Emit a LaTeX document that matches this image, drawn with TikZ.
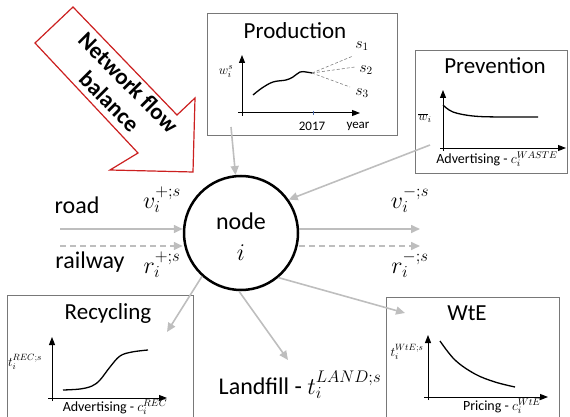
\RequirePackage{fix-cm}
\documentclass[tikz,border=0pt]{standalone}
\usepackage{fontspec}
\setmainfont{Carlito}
\usetikzlibrary{arrows.meta}
\definecolor{flowgray}{RGB}{190,190,190}
\definecolor{boxgray}{RGB}{120,120,120}
\definecolor{netred}{RGB}{204,32,32}
\definecolor{tickblue}{RGB}{80,110,170}
\tikzset{
 bigtext/.style={font=\fontsize{24}{29}\selectfont, inner sep=0pt},
 paneltitle/.style={font=\fontsize{23}{27}\selectfont, inner sep=0pt},
 smalltext/.style={font=\fontsize{14}{16}\selectfont, inner sep=0pt},
 axlabel/.style={font=\fontsize{13}{15}\selectfont, inner sep=0pt},
 scenlabel/.style={font=\fontsize{16}{18}\selectfont, inner sep=0pt},
 panel/.style={draw=boxgray, line width=1pt, anchor=north west, inner sep=0pt},
 flowarrow/.style={draw=flowgray, line width=1.6pt, -{Triangle[length=9pt,width=8pt]}},
 axis/.style={draw=black, line width=1pt, -{Triangle[length=8pt,width=6pt]}},
 curve/.style={draw=black, line width=1.3pt},
 scen/.style={draw=gray, line width=0.6pt, densely dashed},
}
\begin{document}
\begin{tikzpicture}[x=1pt,y=-1pt]
\useasboundingbox (0,0) rectangle (570,417);
\clip (0,0) rectangle (570,417);

% red block arrow
\draw[netred, line width=1.2pt, line join=miter, fill=white]
  (73,7) -- (177,115) -- (195,98) -- (193,172) -- (110,170) -- (138,153) -- (35,43) -- cycle;
\node[font=\bfseries\fontsize{23}{27}\selectfont, rotate=-45, align=center, inner sep=0pt] (nfb) at (119,92) {Network flow\\balance};

% Production panel
\node[panel, minimum width=190pt, minimum height=122pt] (prod) at (207,13) {};
\node[paneltitle] (prodT) at (295,31) {Production};
\draw[axis] (242,116) -- (242,55);
\draw[axis] (238,113) -- (360,113);
\draw[curve] plot[smooth, tension=0.6] coordinates {(253,95) (262,88) (273,82) (286,80) (293,77) (300,72) (306,72) (312,73)};
\draw[scen] (312,73) -- (353,56);
\draw[scen] (312,73) -- (355,67);
\draw[scen] (312,73) -- (350,87);
\node[scenlabel] (s1) at (362,46) {$s_1$};
\node[scenlabel] (s2) at (366,70) {$s_2$};
\node[scenlabel] (s3) at (362,93) {$s_3$};
\draw[tickblue, line width=0.8pt] (313,111) -- (313,115);
\node[axlabel] (yr) at (312,126) {2017};
\node[axlabel] (year) at (358,126) {year};
\node[axlabel] (wis) at (226,72) {$w_i^s$};

% Prevention panel
\node[panel, minimum width=152pt, minimum height=123pt] (prev) at (415,50) {};
\node[paneltitle] (prevT) at (495,66) {Prevention};
\draw[axis] (443,151) -- (443,90);
\draw[axis] (440,148) -- (566,148);
\draw[curve] plot[smooth, tension=0.6] coordinates {(443,105) (453,112) (473,116) (500,117) (538,117)};
\node[axlabel] (wbar) at (425,118) {$\overline{w}_i$};
\node[smalltext] (prevX) at (497,159) {Advertising - $c_i^{WASTE}$};

% central node
\node[circle, draw, line width=2.5pt, minimum size=114pt, inner sep=0pt] (nodei) at (241,233) {};
\node[bigtext] (nodeT) at (241,221) {node};
\node[bigtext] (nodeI) at (241,253) {$i$};

% road / railway flows
\coordinate (roadin) at (60,229);
\coordinate (railin) at (60,246);
\coordinate (roadout) at (420,229);
\coordinate (railout) at (420,246);
\draw[flowarrow] (roadin) -- (roadin -| nodei.west);
\draw[flowarrow, dash pattern=on 6pt off 4pt] (railin) -- (railin -| nodei.west);
\draw[flowarrow] (roadout -| nodei.east) -- (roadout);
\draw[flowarrow, dash pattern=on 6pt off 4pt] (railout -| nodei.east) -- (railout);
\node[bigtext] (road) at (77,205) {road};
\node[bigtext] (rail) at (90,262) {railway};
\node[bigtext] (vin) at (162,200) {$v_i^{+;s}$};
\node[bigtext] (rin) at (162,265) {$r_i^{+;s}$};
\node[bigtext] (vout) at (410,200) {$v_i^{-;s}$};
\node[bigtext] (rout) at (410,265) {$r_i^{-;s}$};

% Recycling panel
\node[panel, minimum width=186pt, minimum height=130pt] (rec) at (7,295) {};
\node[paneltitle] (recT) at (108,313) {Recycling};
\draw[axis] (52,401) -- (52,337);
\draw[axis] (48,398) -- (167,398);
\draw[curve] plot[smooth, tension=0.6] coordinates {(63,390) (80,389) (92,386) (100,380) (110,367) (120,356) (132,352) (148,350)};
\node[axlabel] (tre) at (25,362) {$t_i^{REC;s}$};
\node[smalltext] (recX) at (115,407) {Advertising - $c_i^{REC}$};

% Landfill
\node[bigtext] (landfill) at (300,385) {Landfill - $t_i^{LAND;s}$};

% WtE panel
\node[panel, minimum width=173pt, minimum height=130pt] (wte) at (386,297) {};
\node[paneltitle] (wteT) at (467,313) {WtE};
\draw[axis] (428,400) -- (428,335);
\draw[axis] (424,397) -- (548,397);
\draw[curve] plot[smooth, tension=0.6] coordinates {(440,341) (455,360) (475,374) (495,382) (515,387)};
\node[axlabel] (twte) at (407,352) {$t_i^{WtE;s}$};
\node[smalltext] (wteX) at (502,406) {Pricing - $c_i^{WtE}$};

% flows between panels and node
\coordinate (prodsrc) at (231,127);
\coordinate (prevsrc) at (430,145);
\coordinate (recdst) at (167,332);
\coordinate (landdst) at (288,360);
\coordinate (wtedst) at (405,313);
\draw[flowarrow] (prodsrc) -- (nodei);
\draw[flowarrow] (prevsrc) -- (nodei.35);
\draw[flowarrow] (nodei.228) -- (recdst);
\draw[flowarrow] (nodei.268) -- (landdst);
\draw[flowarrow] (nodei.-50) -- (wtedst);
\end{tikzpicture}
\end{document}
